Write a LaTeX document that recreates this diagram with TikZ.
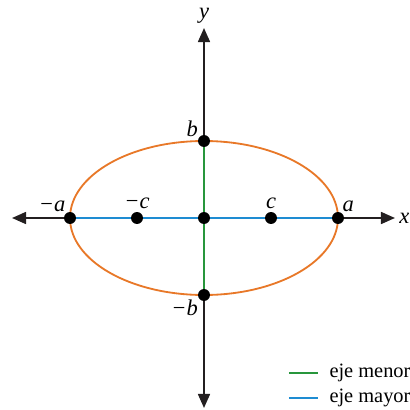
\documentclass[tikz,border=0pt]{standalone}
\usepackage{fontspec}
\setmainfont{Liberation Serif}
\usetikzlibrary{positioning,arrows.meta}
\definecolor{AxisGray}{RGB}{35,31,32}
\definecolor{CurveOrange}{RGB}{232,120,40}
\definecolor{MinorGreen}{RGB}{40,150,60}
\definecolor{MajorBlue}{RGB}{30,140,210}
\tikzset{
  axisline/.style={{Triangle[length=10pt,width=8.5pt]}-{Triangle[length=10pt,width=8.5pt]},line width=1.3pt,draw=AxisGray},
  dot/.style={circle,fill=black,inner sep=0pt,minimum size=8.5pt},
  lbl/.style={font=\fontsize{16}{18}\selectfont\itshape,inner sep=1pt},
  legtext/.style={font=\fontsize{14.5}{16}\selectfont,anchor=west,inner sep=0pt}
}
\begin{document}
\begin{tikzpicture}[x=0.025cm,y=0.025cm]
  \useasboundingbox (-204,-192) rectangle (206,218);
  % axis ends
  \coordinate (xl) at (-192,0);
  \coordinate (xr) at (191,0);
  \coordinate (yt) at (0,190);
  \coordinate (yb) at (0,-190);
  \draw[axisline] (xl) -- (xr);
  \draw[axisline] (yb) -- (yt);
  \node[lbl,right=2pt of xr] (xlab) {x};
  \node[lbl,above=2pt of yt] (ylab) {y};
  % ellipse
  \draw[CurveOrange,line width=1.3pt] (0,0) ellipse [x radius=134,y radius=77];
  % points
  \node[dot] (O) at (0,0) {};
  \node[dot] (A) at (134,0) {};
  \node[dot] (A') at (-134,0) {};
  \node[dot] (C) at (67,0) {};
  \node[dot] (C') at (-67,0) {};
  \node[dot] (B) at (0,77) {};
  \node[dot] (B') at (0,-77) {};
  % axes of the ellipse
  \draw[MajorBlue,line width=1.3pt] (A') -- (C') -- (O) -- (C) -- (A);
  \draw[MinorGreen,line width=1.3pt] (B) -- (O) -- (B');
  % labels
  \node[lbl,above right=0pt and -1pt of A] {a};
  \node[lbl,above left=0pt and -1pt of A'] {−a};
  \node[lbl,above=1pt of C] {c};
  \node[lbl,above=1pt of C'] {−c};
  \node[lbl,above left=-1pt and 0pt of B] {b};
  \node[lbl,below left=-1pt and 0pt of B'] {−b};
  % legend
  \coordinate (g1) at (85,-155);
  \coordinate (g2) at (114,-155);
  \coordinate (m1) at (85,-180);
  \coordinate (m2) at (114,-180);
  \draw[MinorGreen,line width=1.3pt] (g1) -- (g2);
  \draw[MajorBlue,line width=1.3pt] (m1) -- (m2);
  \node[legtext,right=8pt of g2] (menor) {eje menor};
  \node[legtext,right=8pt of m2] (mayor) {eje mayor};
\end{tikzpicture}
\end{document}
